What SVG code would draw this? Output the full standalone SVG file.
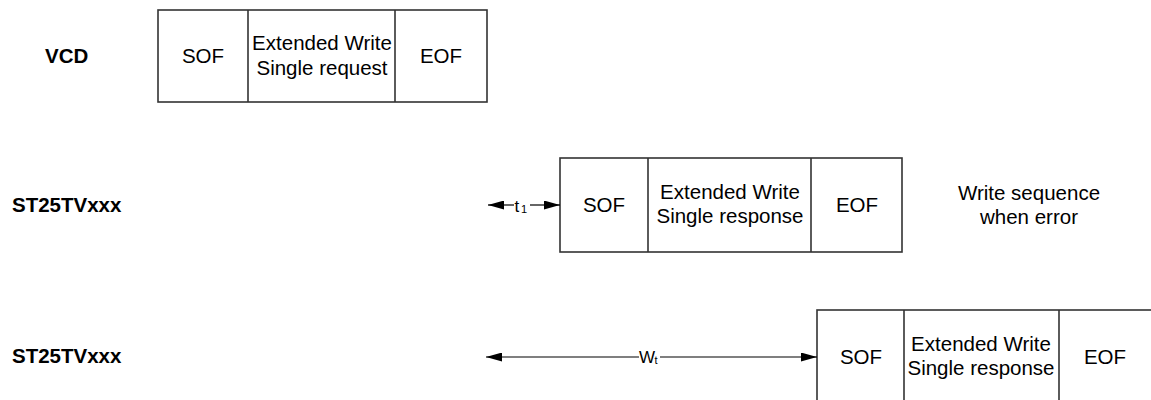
<svg xmlns="http://www.w3.org/2000/svg" width="1151" height="400" viewBox="0 0 1151 400">
<style>
  text { font-family: "Liberation Sans", Arial, sans-serif; fill: #000; }
  .lbl { font-size: 20.5px; font-weight: bold; }
  .cell { font-size: 20.5px; text-anchor: middle; }
  .box { fill: #fff; stroke: #333; stroke-width: 1.6; }
  .div { stroke: #333; stroke-width: 1.6; }
  .conn { stroke: #000; stroke-width: 1.2; fill: none; }
  .sym { font-size: 17px; }
  .sub { font-size: 11px; }
</style>
<defs>
  <marker id="ah" viewBox="0 0 16 9" refX="16" refY="4.5" markerWidth="16" markerHeight="9" markerUnits="userSpaceOnUse" orient="auto-start-reverse">
    <path d="M0,0 L16,4.5 L0,9 z" fill="#000"/>
  </marker>
</defs>
<rect width="1151" height="400" fill="#fff"/>

<g id="label-vcd"><text class="lbl" x="45" y="63">VCD</text></g>
<g id="label-st25-1"><text class="lbl" x="12" y="212">ST25TVxxx</text></g>
<g id="label-st25-2"><text class="lbl" x="12" y="363">ST25TVxxx</text></g>

<g id="frame-request">
  <rect class="box" x="158" y="10" width="329" height="92"/>
  <line class="div" x1="248" y1="10" x2="248" y2="102"/>
  <line class="div" x1="395" y1="10" x2="395" y2="102"/>
  <text class="cell" x="203" y="63">SOF</text>
  <text class="cell" x="322" y="50">Extended Write</text>
  <text class="cell" x="322" y="75">Single request</text>
  <text class="cell" x="441" y="63">EOF</text>
</g>

<g id="frame-response-1">
  <rect class="box" x="560" y="158" width="342" height="94"/>
  <line class="div" x1="648" y1="158" x2="648" y2="252"/>
  <line class="div" x1="811" y1="158" x2="811" y2="252"/>
  <text class="cell" x="604" y="212">SOF</text>
  <text class="cell" x="730" y="199">Extended Write</text>
  <text class="cell" x="730" y="223">Single response</text>
  <text class="cell" x="857" y="212">EOF</text>
</g>

<g id="note-error">
  <text class="cell" x="1029" y="200">Write sequence</text>
  <text class="cell" x="1029" y="224">when error</text>
</g>

<g id="frame-response-2">
  <rect class="box" x="817" y="310" width="340" height="94"/>
  <line class="div" x1="904" y1="310" x2="904" y2="404"/>
  <line class="div" x1="1059" y1="310" x2="1059" y2="404"/>
  <text class="cell" x="861" y="364">SOF</text>
  <text class="cell" x="981" y="351">Extended Write</text>
  <text class="cell" x="981" y="375">Single response</text>
  <text class="cell" x="1105" y="364">EOF</text>
</g>

<g id="connectors">
  <line class="conn" x1="488" y1="205" x2="514" y2="205" marker-start="url(#ah)"/>
  <line class="conn" x1="530" y1="205" x2="560" y2="205" marker-end="url(#ah)"/>
  <text class="sym" x="514.5" y="212">t</text>
  <text class="sub" x="521" y="213">1</text>

  <line class="conn" x1="486" y1="357" x2="639" y2="357" marker-start="url(#ah)"/>
  <line class="conn" x1="660" y1="357" x2="817" y2="357" marker-end="url(#ah)"/>
  <text class="sym" x="639" y="363">W</text>
  <text class="sub" x="654.5" y="364">t</text>
</g>
</svg>
